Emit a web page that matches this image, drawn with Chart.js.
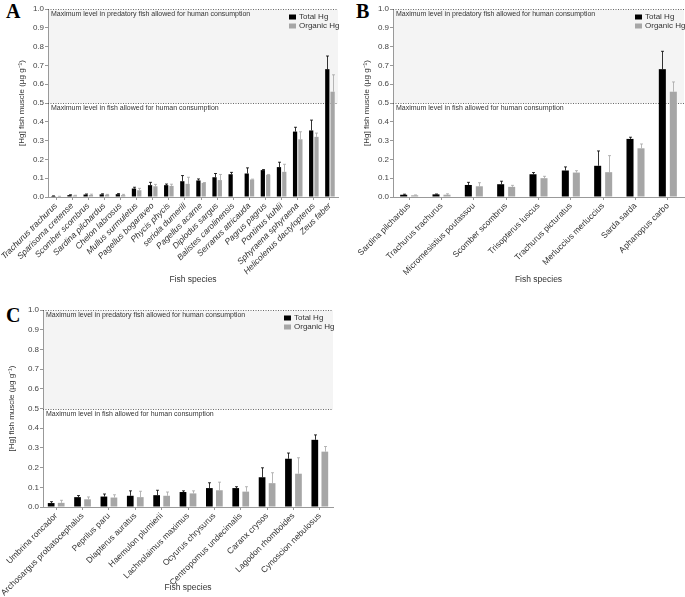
<!DOCTYPE html>
<html>
<head>
<meta charset="utf-8">
<style>
  body { margin: 0; padding: 0; background: #fff; width: 685px; height: 597px; position: relative; overflow: hidden; }
  .panel { position: absolute; }
  .letter { position: absolute; font-family: "Liberation Serif", serif; font-weight: bold; font-size: 20px; color: #000; line-height: 20px; }
</style>
<title>Hg in fish muscle</title>
<script src="https://cdn.jsdelivr.net/npm/chart.js@4.4.0/dist/chart.umd.min.js"></script>
</head>
<body>
  <div class="letter" style="left:6px;top:1px">A</div>
  <div class="letter" style="left:356px;top:1px">B</div>
  <div class="letter" style="left:6px;top:305px">C</div>

  <div class="panel" style="left:0;top:0;width:345px;height:290px"><canvas id="chartA" width="345" height="290"></canvas></div>
  <div class="panel" style="left:345px;top:0;width:340px;height:290px"><canvas id="chartB" width="340" height="290"></canvas></div>
  <div class="panel" style="left:0;top:300px;width:345px;height:297px"><canvas id="chartC" width="345" height="297"></canvas></div>

<script>
// --- data (µg g-1), err = upper error bar length
const speciesA = ['Trachurus trachurus', 'Sparisoma cretense', 'Scomber scombrus', 'Sardina pilchardus',
  'Chelon labrosus', 'Mullus surmuletus', 'Pagellus bogaraveo', 'Phycis phycis', 'seriola dumerili',
  'Pagellus acarne', 'Diplodus sargus', 'Balistes carolinensis', 'Serranus atricauda', 'Pagrus pagrus',
  'Pontinus kuhlii', 'Sphyraena sphyraena', 'Helicolenus dactylopterus', 'Zeus faber'];
const totalA      = [0.005, 0.010, 0.013, 0.014, 0.015, 0.045, 0.063, 0.063, 0.084, 0.088, 0.105, 0.121, 0.125, 0.143, 0.159, 0.348, 0.354, 0.680];
const totalErrA   = [0.001, 0.002, 0.003, 0.003, 0.003, 0.007, 0.015, 0.006, 0.030, 0.008, 0.020, 0.010, 0.030, 0.003, 0.026, 0.023, 0.055, 0.070];
const organicA    = [0.003, 0.008, 0.011, 0.012, 0.010, 0.036, 0.057, 0.059, 0.070, 0.075, 0.090, null, 0.093, 0.118, 0.134, 0.307, 0.320, 0.560];
const organicErrA = [0.001, 0.001, 0.004, 0.002, 0.004, 0.010, 0.010, 0.009, 0.035, 0.002, 0.030, 0, 0.002, 0.002, 0.040, 0.040, 0.020, 0.090];

const speciesB = ['Sardina pilchardus', 'Trachurus trachurus', 'Micromesistius poutassou', 'Scomber scombrus',
  'Trisopterus luscus', 'Trachurus picturatus', 'Merluccius merluccius', 'Sarda sarda', 'Aphanopus carbo'];
const totalB      = [0.012, 0.014, 0.064, 0.068, 0.121, 0.141, 0.166, 0.309, 0.680];
const totalErrB   = [0.003, 0.002, 0.014, 0.016, 0.009, 0.019, 0.079, 0.009, 0.095];
const organicB    = [0.009, 0.012, 0.057, 0.054, 0.100, 0.130, 0.132, 0.259, 0.560];
const organicErrB = [0.002, 0.005, 0.019, 0.008, 0.010, 0.010, 0.088, 0.023, 0.052];

const speciesC = ['Umbrina roncador', 'Archosargus probatocephalus', 'Peprilus paru', 'Diapterus auratus',
  'Haemulon plumierii', 'Lachnolaimus maximus', 'Ocyurus chrysurus', 'Centropomus undecimalis',
  'Caranx crysos', 'Lagodon rhomboides', 'Cynoscion nebulosus'];
const totalC      = [0.020, 0.050, 0.053, 0.057, 0.060, 0.076, 0.096, 0.096, 0.151, 0.245, 0.341];
const totalErrC   = [0.007, 0.008, 0.013, 0.025, 0.025, 0.006, 0.027, 0.007, 0.048, 0.029, 0.025];
const organicC    = [0.021, 0.039, 0.048, 0.050, 0.057, 0.069, 0.085, 0.078, 0.121, 0.169, 0.281];
const organicErrC = [0.013, 0.012, 0.014, 0.030, 0.019, 0.013, 0.041, 0.025, 0.053, 0.081, 0.026];

const limitFish = 0.5;
const limitPredatory = 1.0;
const textPredatory = 'Maximum level in predatory fish allowed for human consumption';
const textFish = 'Maximum level in fish allowed for human consumption';

const BLACK = '#000000';
const GREY = '#a6a6a6';
const FONT = '"Liberation Sans", Arial, sans-serif';

// shaded band + dotted limit lines + their captions
const limitLines = {
  id: 'limitLines',
  beforeDatasetsDraw(chart) {
    const { ctx, chartArea: a, scales: { y } } = chart;
    const yTop = Math.round(y.getPixelForValue(limitPredatory)) + 0.5;
    const yMid = Math.round(y.getPixelForValue(limitFish)) + 0.5;
    ctx.save();
    ctx.fillStyle = '#f4f4f4';
    ctx.fillRect(a.left + 1, yTop, a.right - a.left - 1, yMid - yTop);
    ctx.strokeStyle = '#444';
    ctx.lineWidth = 0.8;
    ctx.setLineDash([1, 1.5]);
    [yTop, yMid].forEach(p => {
      ctx.beginPath();
      ctx.moveTo(a.left, p);
      ctx.lineTo(a.right, p);
      ctx.stroke();
    });
    ctx.setLineDash([]);
    ctx.fillStyle = '#333';
    ctx.font = '7px ' + FONT;
    ctx.textBaseline = 'middle';
    ctx.fillText(textPredatory, a.left + 3, yTop + 5);
    ctx.fillText(textFish, a.left + 3, yMid + 5);
    ctx.restore();
  }
};

// upper error bars
const errorBars = {
  id: 'errorBars',
  afterDatasetsDraw(chart) {
    const { ctx, scales: { y } } = chart;
    ctx.save();
    ctx.lineWidth = 0.8;
    chart.data.datasets.forEach((ds, i) => {
      const meta = chart.getDatasetMeta(i);
      ctx.strokeStyle = ds.backgroundColor;
      meta.data.forEach((bar, j) => {
        const v = ds.data[j], e = ds.err[j];
        if (v == null || !e) return;
        const top = y.getPixelForValue(v + e);
        const x = Math.round(bar.x) + 0.5;
        ctx.beginPath();
        ctx.moveTo(x, bar.y);
        ctx.lineTo(x, top);
        ctx.moveTo(x - 1.5, top);
        ctx.lineTo(x + 1.5, top);
        ctx.stroke();
      });
    });
    ctx.restore();
  }
};

// small legend in the upper right of the plot
const cornerLegend = {
  id: 'cornerLegend',
  afterDraw(chart) {
    const { ctx, chartArea: a } = chart;
    ctx.save();
    ctx.font = '8px ' + FONT;
    ctx.textBaseline = 'middle';
    chart.data.datasets.forEach((ds, i) => {
      const cy = a.top + 8 + i * 9;
      ctx.fillStyle = ds.backgroundColor;
      ctx.fillRect(a.right - 49, cy - 2.5, 7, 5);
      ctx.fillStyle = '#333';
      ctx.fillText(ds.label, a.right - 39, cy);
    });
    ctx.restore();
  }
};

function makeChart(id, labels, total, totalErr, organic, organicErr, o) {
  return new Chart(document.getElementById(id), {
    type: 'bar',
    data: {
      labels: labels,
      datasets: [
        { label: 'Total Hg', data: total, err: totalErr, backgroundColor: BLACK,
          categoryPercentage: o.cat, barPercentage: o.bar },
        { label: 'Organic Hg', data: organic, err: organicErr, backgroundColor: GREY,
          categoryPercentage: o.cat, barPercentage: o.bar }
      ]
    },
    options: {
      responsive: false,
      animation: false,
      layout: { padding: { top: o.top, right: o.right, left: 0, bottom: 0 } },
      plugins: { legend: { display: false }, tooltip: { enabled: false } },
      scales: {
        x: {
          grid: { display: true, drawOnChartArea: false, offset: false, tickLength: 3, color: '#999' },
          border: { color: '#999' },
          ticks: {
            autoSkip: false, minRotation: 45, maxRotation: 45, padding: 1, color: '#333',
            font: { family: FONT, size: 8.5, style: o.italic ? 'italic' : 'normal' }
          },
          title: { display: true, text: 'Fish species', color: '#333',
                   font: { family: FONT, size: 8.5 }, padding: { top: 0, bottom: o.xTitlePad } },
          afterFit: s => { s.height = o.xHeight; s.paddingLeft = 0; s.paddingRight = 0; }
        },
        y: {
          min: 0, max: 1.0,
          grid: { display: true, drawOnChartArea: false, tickLength: 3, color: '#999' },
          border: { color: '#999' },
          ticks: { stepSize: 0.1, padding: 1, color: '#444', font: { family: FONT, size: 8 },
                   callback: v => v.toFixed(1) },
          title: { display: true, text: '[Hg] fish muscle (µg g⁻¹)', color: '#333',
                   font: { family: FONT, size: 8 }, padding: { top: o.yTitlePad, bottom: 0 } },
          afterFit: s => { s.width = o.yWidth; }
        }
      }
    },
    plugins: [limitLines, errorBars, cornerLegend]
  });
}

makeChart('chartA', speciesA, totalA, totalErrA, organicA, organicErrA,
  { cat: 0.66, bar: 0.8, top: 9, right: 7, xHeight: 93, yWidth: 48, xTitlePad: 5, yTitlePad: 17, italic: true });
makeChart('chartB', speciesB, totalB, totalErrB, organicB, organicErrB,
  { cat: 0.68, bar: 0.64, top: 9, right: 1, xHeight: 93, yWidth: 48, xTitlePad: 5, yTitlePad: 17, italic: false });
makeChart('chartC', speciesC, totalC, totalErrC, organicC, organicErrC,
  { cat: 0.76, bar: 0.67, top: 10, right: 12, xHeight: 90, yWidth: 43, xTitlePad: 4, yTitlePad: 7, italic: false });
</script>
</body>
</html>
